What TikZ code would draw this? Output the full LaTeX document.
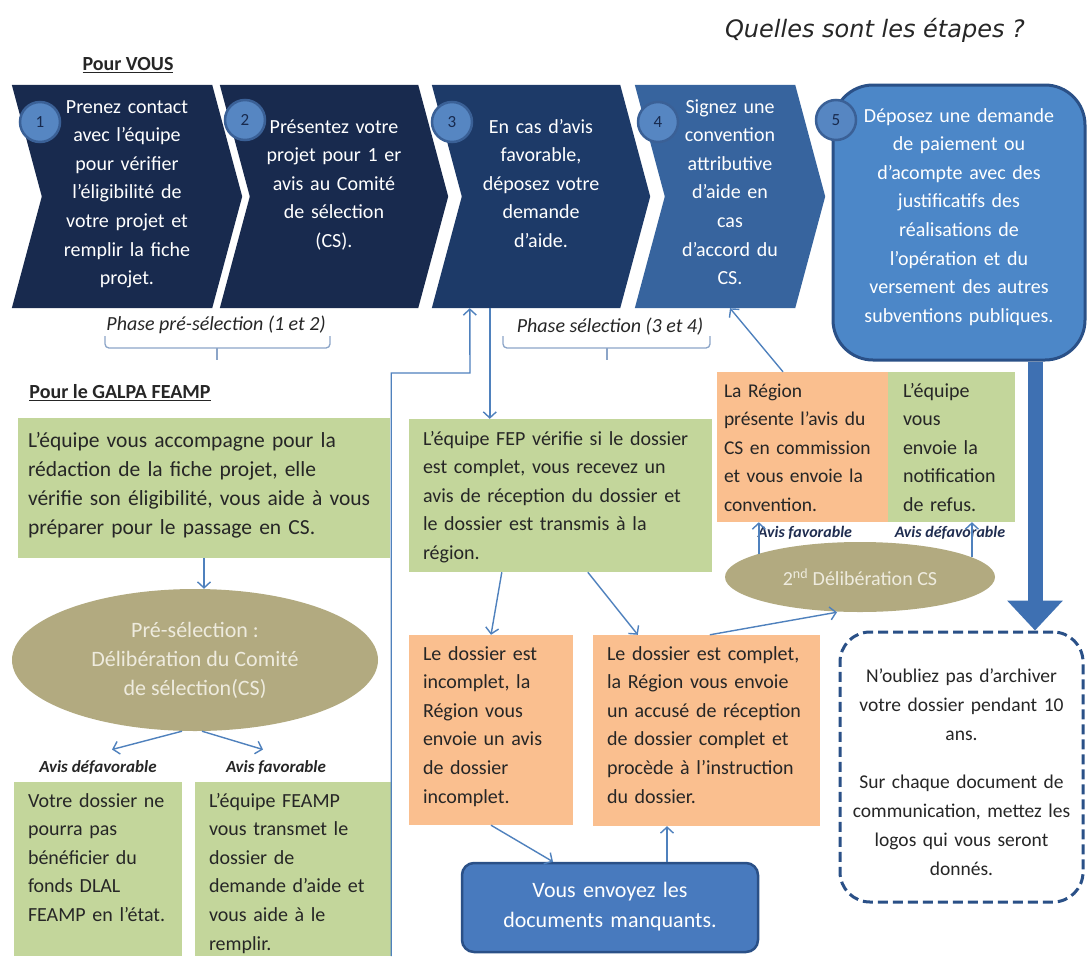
\documentclass[tikz,border=0pt]{standalone}
\usepackage{fontspec}
\setmainfont{Carlito}
\newfontfamily\titrefont{DejaVu Sans}
\usepackage{xcolor}
\usetikzlibrary{shapes.geometric,arrows.meta,positioning,backgrounds}

\definecolor{navyA}{RGB}{24,42,78}
\definecolor{navyB}{RGB}{29,58,104}
\definecolor{bleuC}{RGB}{55,100,158}
\definecolor{bleuD}{RGB}{76,135,200}
\definecolor{bleuBord}{RGB}{42,80,135}
\definecolor{numfill}{RGB}{86,134,194}
\definecolor{numring}{RGB}{58,96,150}
\definecolor{vertclair}{RGB}{195,214,155}
\definecolor{orangeclair}{RGB}{250,191,143}
\definecolor{kaki}{RGB}{178,170,128}
\definecolor{kakitxt}{RGB}{238,235,222}
\definecolor{trait}{RGB}{79,129,189}
\definecolor{texte}{RGB}{38,38,38}
\definecolor{encre}{RGB}{31,45,80}
\definecolor{docbleu}{RGB}{72,122,190}
\definecolor{fleche}{RGB}{62,112,178}
\definecolor{accolade}{RGB}{140,165,200}

\begin{document}
\begin{tikzpicture}[x=1pt, y=-1pt,
    etapebox/.style={rectangle, inner sep=0pt, text=white, align=center, font=\fontsize{20}{28.6}\selectfont},
    numbox/.style={circle, minimum size=40pt, inner sep=0pt, fill=numfill, draw=numring, line width=2.5pt, text=navyA, font=\fontsize{17}{17}\selectfont},
    vertbox/.style={rectangle, fill=vertclair, inner xsep=14pt, inner ysep=0pt, align=left, text=texte, font=\fontsize{20}{28.6}\selectfont},
    orangebox/.style={vertbox, fill=orangeclair},
    delibbox/.style={ellipse, fill=kaki, inner sep=0pt, align=center, text=kakitxt, font=\fontsize{22}{29}\selectfont},
    docbox/.style={rectangle, rounded corners=12pt, fill=docbleu, draw=bleuBord, line width=2.5pt, text=white, align=center, inner xsep=8pt, inner ysep=0pt, font=\fontsize{22}{30}\selectfont},
    rubrique/.style={font=\bfseries\fontsize{20}{20}\selectfont, text=texte},
    phaselbl/.style={font=\itshape\fontsize{20}{20}\selectfont, text=texte},
    lbl/.style={font=\bfseries\itshape\fontsize{17}{17}\selectfont, text=texte},
    arr/.style={draw=trait, line width=1.4pt, -{Straight Barb[length=6pt,width=13pt]}},
    bigarr/.style={draw=fleche, line width=15pt, -{Triangle[length=30pt,width=54pt]}},
    accol/.style={draw=accolade, line width=1.3pt, rounded corners=4pt},
]
\useasboundingbox (0,0) rectangle (1087,956);
% Title
\node[font=\titrefont\itshape\fontsize{24}{24}\selectfont, text=texte] (titre) at (875,30) {Quelles sont les étapes ?};
\node[rubrique] (pourvous) at (128,65) {\underline{Pour VOUS}};
% Steps
\node[etapebox, text width=170pt, text height=28pt, text depth=195pt] (etape1) at (127,196.5)
    {Prenez contact\\avec l’équipe\\pour vérifier\\l’éligibilité de\\votre projet et\\remplir la fiche\\projet.};
\node[etapebox, text width=168pt, text height=48pt, text depth=175pt] (etape2) at (334,196.5)
    {Présentez votre\\projet pour 1 er\\avis au Comité\\de sélection\\(CS).};
\node[etapebox, text width=158pt, text height=48pt, text depth=175pt] (etape3) at (541,196.5)
    {En cas d’avis\\favorable,\\déposez votre\\demande\\d’aide.};
\node[etapebox, text width=130pt, text height=28pt, text depth=195pt] (etape4) at (730,196.5)
    {Signez une\\convention\\attributive\\d’aide en\\cas\\d’accord du\\CS.};
\node[etapebox, rounded corners=40pt, fill=bleuD, draw=bleuBord, line width=3pt, text width=240pt, inner xsep=6pt,
    text height=37pt, text depth=238pt] (etape5) at (959,222.5)
    {Déposez une demande\\de paiement ou\\d’acompte avec des\\justificatifs des\\réalisations de\\l’opération et du\\versement des autres\\subventions publiques.};
\foreach \n/\x/\y in {1/40/122, 2/245/120, 3/452/122, 4/658/122, 5/836/120}
    \node[numbox] (num\n) at (\x,\y) {\n};
\begin{scope}[on background layer]
\fill[white] (0,0) rectangle (1087,956);
\foreach \e/\c in {etape1/navyA, etape2/navyA, etape3/navyB, etape4/bleuC}
    \fill[\c] ([xshift=-30pt]\e.north west) -- (\e.north east) -- ([xshift=30pt]\e.east) -- (\e.south east)
        -- ([xshift=-30pt]\e.south west) -- (\e.west) -- cycle;
\end{scope}
% Phases
\node[phaselbl] (phase12) at (216,325) {Phase pré-sélection (1 et 2)};
\node[phaselbl] (phase34) at (610,327) {Phase sélection (3 et 4)};
\draw[accol] (105,336) |- (330,348) -- (330,336);
\draw[accol] (217,348) -- (217,360);
\draw[accol] (503,336) |- (710,348) -- (710,336);
\draw[accol] (607,348) -- (607,360);
% GALPA side
\node[rubrique] (galpa) at (120,393) {\underline{Pour le GALPA FEAMP}};
\node[vertbox, text width=352pt, inner xsep=10pt, font=\fontsize{21.5}{29}\selectfont, text height=29pt, text depth=111pt] (accomp) at (204,488)
    {L’équipe vous accompagne pour la\\rédaction de la fiche projet, elle\\vérifie son éligibilité, vous aide à vous\\préparer pour le passage en CS.};
\node[delibbox, minimum width=366pt, minimum height=142pt] (presel) at (195,660)
    {Pré-sélection :\\Délibération du Comité\\de sélection(CS)};
\node[lbl] (avisdef1) at (98,768) {Avis défavorable};
\node[lbl] (avisfav1) at (276,768) {Avis favorable};
\node[vertbox, text width=140pt, text height=25pt, text depth=149pt] (refus) at (98,869)
    {Votre dossier ne\\pourra pas\\bénéficier du\\fonds DLAL\\FEAMP en l’état.};
\node[vertbox, text width=168pt, text height=25pt, text depth=149pt] (feamp) at (293,869)
    {L’équipe FEAMP\\vous transmet le\\dossier de\\demande d’aide et\\vous aide à le\\remplir.};
% Region side
\node[vertbox, text width=275pt, text height=26pt, text depth=127pt] (fep) at (560.5,495.5)
    {L’équipe FEP vérifie si le dossier\\est complet, vous recevez un\\avis de réception du dossier et\\le dossier est transmis à la\\région.};
\node[orangebox, text width=136pt, text height=25pt, text depth=165pt] (incomplet) at (491,730)
    {Le dossier est\\incomplet, la\\Région vous\\envoie un avis\\de dossier\\incomplet.};
\node[orangebox, text width=199pt, text height=25pt, text depth=166pt] (complet) at (706.5,730.5)
    {Le dossier est complet,\\la Région vous envoie\\un accusé de réception\\de dossier complet et\\procède à l’instruction\\du dossier.};
\node[docbox, text width=280pt, text height=34pt, text depth=55pt] (docs) at (610,907.5)
    {Vous envoyez les\\documents manquants.};
\node[orangebox, text width=157pt, inner xsep=7pt, font=\fontsize{19.5}{28.6}\selectfont, text height=25pt, text depth=125pt] (laregion) at (802.5,447)
    {La Région\\présente l’avis du\\CS en commission\\et vous envoie la\\convention.};
\node[vertbox, text width=97pt, inner xsep=15pt, text height=25pt, text depth=125pt] (notifrefus) at (951.5,447)
    {L’équipe\\vous\\envoie la\\notification\\de refus.};
\node[delibbox, minimum width=270pt, minimum height=70pt, font=\fontsize{20}{20}\selectfont] (delib2) at (860,577)
    {2\textsuperscript{nd} Délibération CS};
\node[lbl, text=encre, font=\bfseries\itshape\fontsize{16}{16}\selectfont] (avisfav2) at (805,533) {Avis favorable};
\node[lbl, text=encre, font=\bfseries\itshape\fontsize{16}{16}\selectfont] (avisdef2) at (950,533) {Avis défavorable};
\node[draw=bleuBord, line width=3pt, dash pattern=on 10pt off 5pt, rounded corners=30pt, text width=237pt, inner xsep=3pt,
    inner ysep=0pt, align=center, text=texte, font=\fontsize{19.5}{29}\selectfont, text height=50pt, text depth=220pt] (archive) at (961.5,767)
    {N’oubliez pas d’archiver\\votre dossier pendant 10\\ans.\\[19pt]Sur chaque document de\\communication, mettez les\\logos qui vous seront\\donnés.};
% Connections
\coordinate (coude) at (470,373);
\draw[arr] (accomp.south) -- (accomp.south |- presel.north);
\draw[arr] ([xshift=-13pt]presel.south) -- ([xshift=14pt,yshift=8pt]avisdef1.north);
\draw[arr] ([xshift=7pt]presel.south) -- ([xshift=-13pt,yshift=8pt]avisfav1.north);
\draw[arr] (feamp.south east) |- (coude) -- ([xshift=8pt]etape3.south west);
\draw[arr] ([xshift=28pt]etape3.south west) -- ([xshift=28pt]etape3.south west |- fep.north);
\draw[arr] ([xshift=93pt]fep.south west) -- (incomplet.north);
\draw[arr] ([xshift=179pt]fep.south west) -- ([xshift=45pt]complet.north west);
\draw[arr] ([xshift=117pt]complet.north west) -- ([xshift=-23pt]delib2.south);
\draw[arr] (delib2.167) -- (delib2.167 |- laregion.south);
\draw[arr] (delib2.10) -- (delib2.10 |- notifrefus.south);
\draw[arr] ([xshift=-19.5pt]laregion.north) -- (etape4.south);
\draw[arr] (incomplet.south) -- ([xshift=-57pt]docs.north);
\draw[arr] ([xshift=57pt]docs.north) -- ([xshift=57pt]docs.north |- complet.south);
\draw[bigarr] ([xshift=76pt]etape5.south) -- ([xshift=76pt]etape5.south |- archive.north);
\end{tikzpicture}
\end{document}
